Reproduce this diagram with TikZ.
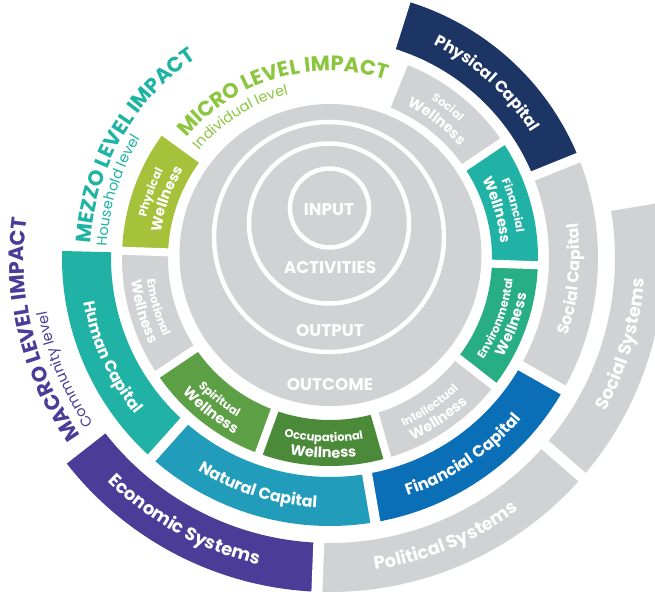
\documentclass[tikz,border=0pt]{standalone}
\usepackage{fontspec}
\setmainfont{Poppins}
\usetikzlibrary{decorations.text}

\definecolor{grayc}{HTML}{D1D2D4}
\definecolor{physW}{HTML}{A6C13A}
\definecolor{finW}{HTML}{21B2A6}
\definecolor{envW}{HTML}{28AE83}
\definecolor{occW}{HTML}{4B8A38}
\definecolor{spiW}{HTML}{5C9F45}
\definecolor{physC}{HTML}{1C3564}
\definecolor{finC}{HTML}{0B6FB8}
\definecolor{natC}{HTML}{229CBB}
\definecolor{humC}{HTML}{1FB2A5}
\definecolor{econS}{HTML}{4A3C97}
\definecolor{microc}{HTML}{8CC63F}
\definecolor{mezzoc}{HTML}{1DB4A4}
\definecolor{macroc}{HTML}{4A3C97}

% annular sector: color, r_in, r_out, a_start, a_end
\newcommand\ringseg[5]{\fill[#1] (#4:#3bp) arc[start angle=#4,end angle=#5,radius=#3bp] -- (#5:#2bp) arc[start angle=#5,end angle=#4,radius=#2bp] -- cycle;}
% white gap ray: angle, r1, r2, width
\newcommand\gapray[4]{\draw[white,line width=#4bp] (#1:#2bp) -- (#1:#3bp);}
% text along arc: radius, start, end, align, format, text
\newcommand\arctext[6]{\path[decorate,decoration={text along path,text align=#4,text={|#5|#6}}] (#2:#1bp) arc[start angle=#2,end angle=#3,radius=#1bp];}

\newcommand\fwa{\bfseries\fontsize{11.5}{11.5}\selectfont\color{white}}
\newcommand\fwb{\bfseries\fontsize{14.5}{14.5}\selectfont\color{white}}
\newcommand\fcap{\bfseries\fontsize{16}{16}\selectfont\color{white}}
\newcommand\fsys{\bfseries\fontsize{18}{18}\selectfont\color{white}}
\newcommand\ftitle{\bfseries\fontsize{21}{21}\selectfont}
\newcommand\fsub{\fontsize{14.5}{14.5}\selectfont}

\begin{document}
\begin{tikzpicture}[x=1bp,y=1bp,
  ctext/.style={text=white,font=\bfseries\fontsize{17}{17}\selectfont,inner sep=0pt}]
\useasboundingbox (-330,-336) rectangle (325,258);
\fill[white] (-330,-336) rectangle (325,258);
\clip (-330,-336) rectangle (325,258);

% ---- central disk and nested circles
\fill[grayc] (0.5,3) circle[radius=151bp];
\draw[white,line width=4.5bp] (-1,21) circle[radius=115bp];
\draw[white,line width=4.5bp] (-1,34.5) circle[radius=80bp];
\draw[white,line width=4.5bp] (-0.5,50) circle[radius=39.5bp];
\node[ctext] (input) at (-1,48.5) {INPUT};
\node[ctext] (activities) at (0,-10) {ACTIVITIES};
\node[ctext] (output) at (0,-72.5) {OUTPUT};
\node[ctext] (outcome) at (0,-126.5) {OUTCOME};

% ---- wellness ring
\ringseg{grayc}{162}{208}{34}{68}
\ringseg{finW}{162}{208}{-2}{34}
\ringseg{envW}{162}{208}{-38}{-2}
\ringseg{grayc}{162}{208}{-74}{-38}
\ringseg{occW}{162}{208}{-110}{-74}
\ringseg{spiW}{162}{208}{-146}{-110}
\ringseg{grayc}{162}{208}{-182}{-146}
\ringseg{physW}{162}{208}{144}{178}
\foreach \a in {34,-2,-38,-74,-110,-146,178} {\gapray{\a}{158}{212}{8}}

% ---- capital ring
\ringseg{physC}{219}{268}{22}{72.5}
\ringseg{grayc}{219}{268}{-29.5}{22}
\ringseg{finC}{219}{268}{-80.25}{-29.5}
\ringseg{natC}{219}{268}{-131.75}{-80.25}
\ringseg{humC}{219}{268}{-181.5}{-131.75}
\foreach \a in {22,-29.5,-80.25,-131.75} {\gapray{\a}{215}{272}{10}}

% ---- systems ring
\ringseg{grayc}{285}{334}{-41}{9.5}
\ringseg{grayc}{285}{334}{-92.25}{-41}
\ringseg{econS}{285}{334}{-142}{-92.25}
\foreach \a in {-41,-92.25} {\gapray{\a}{281}{338}{11}}

% ---- wellness labels (clockwise, tops outward)
\arctext{188}{69}{35}{center}{\fwa}{Social}
\arctext{171}{69}{35}{center}{\fwb}{Wellness}
\arctext{188}{33}{-1}{center}{\fwa}{Financial}
\arctext{171}{33}{-1}{center}{\fwb}{Wellness}
\arctext{188}{177}{143}{center}{\fwa}{Physical}
\arctext{171}{177}{143}{center}{\fwb}{Wellness}
% (counter-clockwise, tops inward)
\arctext{184}{-37}{-3}{center}{\fwa}{Environmental}
\arctext{200}{-37}{-3}{center}{\fwb}{Wellness}
\arctext{184}{-73}{-39}{center}{\fwa}{Intellectual}
\arctext{200}{-73}{-39}{center}{\fwb}{Wellness}
\arctext{184}{-109}{-75}{center}{\fwa}{Occupational}
\arctext{200}{-109}{-75}{center}{\fwb}{Wellness}
\arctext{184}{-145}{-111}{center}{\fwa}{Spiritual}
\arctext{200}{-145}{-111}{center}{\fwb}{Wellness}
\arctext{184}{-181}{-147}{center}{\fwa}{Emotional}
\arctext{200}{-181}{-147}{center}{\fwb}{Wellness}

% ---- capital labels
\arctext{237}{72}{24}{center}{\fcap}{Physical Capital}
\arctext{250}{-29}{19}{center}{\fcap}{Social Capital}
\arctext{250}{-80}{-32}{center}{\fcap}{Financial Capital}
\arctext{250}{-131.5}{-83.5}{center}{\fcap}{Natural Capital}
\arctext{250}{-179.5}{-131.5}{center}{\fcap}{Human Capital}

% ---- systems labels
\arctext{315}{-40.5}{7.5}{center}{\fsys}{Social Systems}
\arctext{315}{-91.5}{-43.5}{center}{\fsys}{Political Systems}
\arctext{315}{-143}{-95}{center}{\fsys}{Economic Systems}

% ---- level titles
\arctext{187}{140}{60}{left}{\ftitle\color{microc}}{MICRO LEVEL IMPACT}
\arctext{169}{140.5}{80}{left}{\fsub\color{microc}}{Individual level}
\arctext{240}{176.5}{110}{left}{\ftitle\color{mezzoc}}{MEZZO LEVEL IMPACT}
\arctext{223.5}{177}{130}{left}{\fsub\color{mezzoc}}{Household level}
\arctext{306}{215.5}{160}{left}{\ftitle\color{macroc}}{MACRO LEVEL IMPACT}
\arctext{288.5}{215}{175}{left}{\fsub\color{macroc}}{Community level}
\end{tikzpicture}
\end{document}
